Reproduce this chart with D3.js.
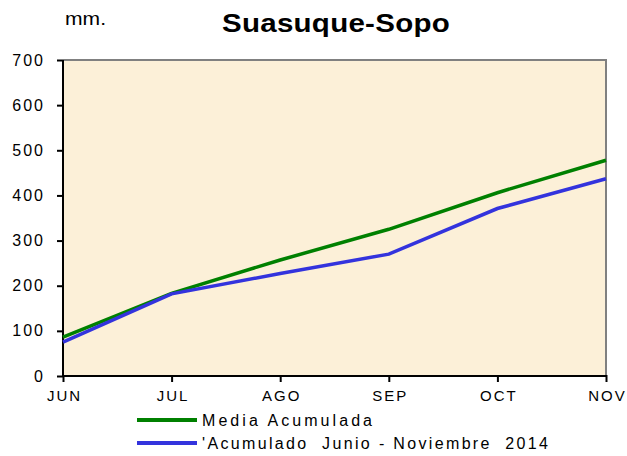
<!DOCTYPE html>
<html><head><meta charset="utf-8">
<script src="https://cdn.jsdelivr.net/npm/d3@7"></script>
<style>body{margin:0;background:#fff}svg{display:block}text{font-family:"Liberation Sans",Arial,sans-serif}</style>
</head><body><svg id="c" width="627" height="456"></svg>
<script>
const months = ["JUN","JUL","AGO","SEP","OCT","NOV"];
const media = [86, 183, 257, 325, 406, 478];
const acumulado = [75, 182, 227, 270, 371, 437];
const yTicks = [0,100,200,300,400,500,600,700];
const seriesNames = ["Media Acumulada","'Acumulado  Junio - Noviembre  2014"];

const svg = d3.select("#c");
const L=63, R=606, T=60, B=376;
const x = d3.scalePoint().domain(months).range([L,R]);
const y = d3.scaleLinear().domain([0,700]).range([B,T]);

svg.append("rect").attr("x",L).attr("y",T).attr("width",R-L).attr("height",B-T).attr("fill","#fcf0d8");
svg.append("path").attr("d",`M${L},${T}H${R}V${B}`).attr("fill","none").attr("stroke","#808080").attr("stroke-width",2);

const ls = 2;
const ya = svg.append("g").attr("transform",`translate(${L},0)`).call(d3.axisLeft(y).tickValues(yTicks).tickSize(6));
const xa = svg.append("g").attr("transform",`translate(0,${B})`).call(d3.axisBottom(x).tickSize(6).tickPadding(8));
[ya,xa].forEach(a=>{a.select(".domain").attr("stroke","#000").attr("stroke-width",2);
  a.selectAll(".tick line").attr("stroke","#000").attr("stroke-width",2);
  a.selectAll("text").attr("fill","#000").attr("letter-spacing",ls);});
ya.selectAll("text").attr("font-size",16).attr("x",-20+ls);
xa.selectAll("text").attr("font-size",15).attr("dx",ls/2);
xa.select(".domain").attr("d",`M${L},0H${R}`);
ya.select(".domain").attr("d",`M0,${T}V${B}`);
xa.selectAll(".tick line").attr("y1",-1);
ya.selectAll(".tick line").attr("x1",0);

const line = d3.line().x((d,i)=>x(months[i])).y(d=>y(d));
svg.append("path").datum(media).attr("d",line).attr("fill","none").attr("stroke","#008000").attr("stroke-width",3.5);
svg.append("path").datum(acumulado).attr("d",line).attr("fill","none").attr("stroke","#3333dd").attr("stroke-width",3.5);

svg.append("text").attr("transform","translate(222,32) scale(1.18,1)").attr("font-size",25).attr("font-weight","bold")
  .attr("textLength",193).attr("lengthAdjust","spacing").text("Suasuque-Sopo");
svg.append("text").attr("x",65).attr("y",25).attr("font-size",19).attr("textLength",41).attr("lengthAdjust","spacingAndGlyphs").text("mm.");

const colors=["#008000","#3333dd"];
const lens=[170,346];
seriesNames.forEach((n,i)=>{
  const yy = 420 + i*23;
  svg.append("line").attr("x1",137).attr("x2",197).attr("y1",yy).attr("y2",yy).attr("stroke",colors[i]).attr("stroke-width",4);
  svg.append("text").attr("x",202).attr("y",yy+6).attr("font-size",16).attr("xml:space","preserve")
    .attr("textLength",lens[i]).attr("lengthAdjust","spacing").text(n);
});
</script></body></html>
